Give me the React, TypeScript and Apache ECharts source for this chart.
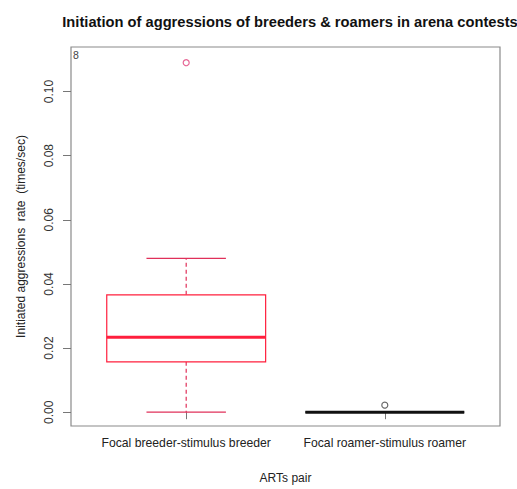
import React, { useEffect, useRef } from "react";
import * as echarts from "echarts";

const categories = ["Focal breeder-stimulus breeder", "Focal roamer-stimulus roamer"];
const lowerWhisker = [0.0, 0.0];
const q1 = [0.0157, 0.0];
const median = [0.0234, 0.0];
const q3 = [0.0366, 0.0];
const upperWhisker = [0.048, 0.0];
const outlierGroup = [1, 2];
const outlierValue = [0.109, 0.0022];
const yTicks = [0, 0.02, 0.04, 0.06, 0.08, 0.1];
const xTicks = [1, 2];

const boxColors = ["#ff1f3d", "#111111"];
const whiskerColors = ["#e0305a", "#111111"];
const outlierColors = ["#e0407a", "#444444"];

export default function App() {
  const ref = useRef<HTMLDivElement>(null);
  useEffect(() => {
    if (!ref.current) return;
    const chart = echarts.init(ref.current, null, { renderer: "svg" });
    const boxData = categories.map((_, i) => [
      i + 1,
      lowerWhisker[i],
      q1[i],
      median[i],
      q3[i],
      upperWhisker[i],
      i,
    ]);
    const outData = outlierGroup.map((g, i) => ({
      value: [g, outlierValue[i]],
      itemStyle: { color: "#ffffff", borderColor: outlierColors[g - 1], borderWidth: 1.2 },
    }));
    const font = "'Liberation Sans', Arial, sans-serif";
    chart.setOption({
      animation: false,
      backgroundColor: "#ffffff",
      title: {
        text: "Initiation of aggressions of breeders & roamers in arena contests",
        left: 285,
        textAlign: "center",
        top: 9,
        textStyle: { fontFamily: font, fontSize: 14.7, fontWeight: "bold", color: "#111" },
      },
      grid: {
        left: 71,
        top: 47,
        width: 429,
        height: 383,
        show: true,
        borderColor: "#8a8a8a",
        borderWidth: 1.2,
        backgroundColor: "transparent",
      },
      xAxis: {
        type: "value",
        min: 0.42,
        max: 2.58,
        name: "ARTs pair",
        nameLocation: "middle",
        nameGap: 46,
        nameTextStyle: { fontFamily: font, fontSize: 12, color: "#222" },
        axisLine: { show: false },
        splitLine: { show: false },
        axisTick: { show: true, length: 7, customValues: xTicks, lineStyle: { color: "#777" } },
        axisLabel: {
          customValues: xTicks,
          margin: 11,
          fontFamily: font,
          fontSize: 12.2,
          color: "#222",
          formatter: (v: number) => categories[Math.round(v) - 1] ?? "",
        },
      },
      yAxis: {
        type: "value",
        min: -0.0043,
        max: 0.1139,
        name: "Initiated aggressions  rate  (times/sec)",
        nameLocation: "middle",
        nameGap: 44,
        nameRotate: 90,
        nameTextStyle: { fontFamily: font, fontSize: 12, color: "#222" },
        axisLine: { show: false },
        splitLine: { show: false },
        axisTick: { show: true, length: 8, customValues: yTicks, lineStyle: { color: "#777" } },
        axisLabel: {
          customValues: yTicks,
          rotate: 90,
          margin: 16,
          fontFamily: font,
          fontSize: 12,
          color: "#333",
          formatter: (v: number) => v.toFixed(2),
        },
      },
      graphic: [
        {
          type: "text",
          left: 73,
          top: 49,
          style: { text: "8", fontFamily: font, fontSize: 10.5, fill: "#444" },
        },
      ],
      series: [
        {
          type: "custom",
          data: boxData,
          renderItem: (params: any, api: any) => {
            const x = api.value(0);
            const idx = api.value(6);
            const lo = api.coord([x, api.value(1)]);
            const b1 = api.coord([x, api.value(2)]);
            const md = api.coord([x, api.value(3)]);
            const b3 = api.coord([x, api.value(4)]);
            const hi = api.coord([x, api.value(5)]);
            const w = api.size([0.8, 0])[0];
            const cx = lo[0];
            const col = boxColors[idx];
            const wc = whiskerColors[idx];
            return {
              type: "group",
              children: [
                {
                  type: "line",
                  shape: { x1: cx, y1: b3[1], x2: cx, y2: hi[1] },
                  style: { stroke: wc, lineWidth: 1.2, lineDash: [4, 3] },
                },
                {
                  type: "line",
                  shape: { x1: cx, y1: b1[1], x2: cx, y2: lo[1] },
                  style: { stroke: wc, lineWidth: 1.2, lineDash: [4, 3] },
                },
                {
                  type: "line",
                  shape: { x1: cx - w / 4, y1: hi[1], x2: cx + w / 4, y2: hi[1] },
                  style: { stroke: wc, lineWidth: 1.2 },
                },
                {
                  type: "line",
                  shape: { x1: cx - w / 4, y1: lo[1], x2: cx + w / 4, y2: lo[1] },
                  style: { stroke: wc, lineWidth: 1.2 },
                },
                {
                  type: "rect",
                  shape: { x: cx - w / 2, y: b3[1], width: w, height: b1[1] - b3[1] },
                  style: { fill: "#ffffff", stroke: col, lineWidth: 1.2 },
                },
                {
                  type: "line",
                  shape: { x1: cx - w / 2, y1: md[1], x2: cx + w / 2, y2: md[1] },
                  style: { stroke: col, lineWidth: 3 },
                },
              ],
            };
          },
        },
        {
          type: "scatter",
          symbol: "circle",
          symbolSize: 6,
          data: outData,
        },
      ],
    });
    return () => chart.dispose();
  }, []);
  return (
    <div
      ref={ref}
      style={{ position: "fixed", left: 0, top: 0, width: 517, height: 489 }}
    />
  );
}
